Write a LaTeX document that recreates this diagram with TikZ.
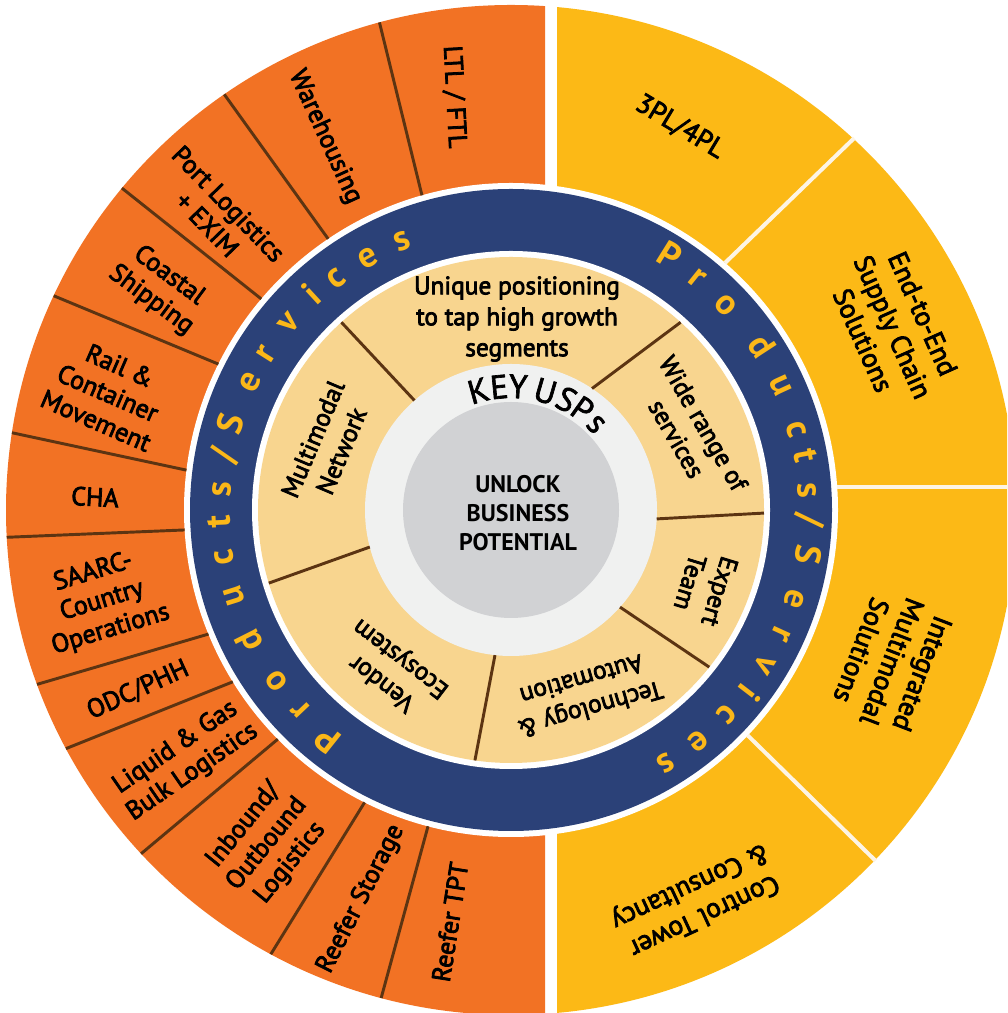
\documentclass[tikz,border=0pt]{standalone}
\usepackage{fontspec}
\setmainfont{PT Sans}
\newfontfamily\labfont{PT Sans}[FakeBold=3]
\newfontfamily\keyfont{PT Sans}[FakeBold=2]
\newfontfamily\ctrfont{PT Sans Bold}
\usetikzlibrary{calc}
\definecolor{orng}{RGB}{242,114,36}
\definecolor{yel}{RGB}{252,185,22}
\definecolor{navy}{RGB}{43,65,120}
\definecolor{ringtxt}{RGB}{251,183,24}
\definecolor{beige}{RGB}{248,213,143}
\definecolor{lgrey}{RGB}{240,241,240}
\definecolor{mgrey}{RGB}{209,210,212}
\definecolor{brn}{RGB}{92,52,18}
\definecolor{cream}{RGB}{253,244,228}
\newcommand\myslash{/}
\begin{document}
\begin{tikzpicture}[x=0.75pt,y=0.75pt,
  lab/.style={font=\labfont\fontsize{19.5}{22.5}\selectfont, align=center, inner sep=0pt},
  ylab/.style={font=\labfont\fontsize{20.5}{24.5}\selectfont, align=center, inner sep=0pt},
  blab/.style={font=\labfont\fontsize{19}{23.2}\selectfont, align=center, inner sep=0pt},
  ctr/.style={font=\ctrfont\fontsize{18}{21.75}\selectfont, align=center, inner sep=0pt},
  rtxt/.style={font=\bfseries\fontsize{27}{27}\selectfont, text=ringtxt, anchor=base, inner sep=0pt},
  ktxt/.style={font=\keyfont\fontsize{25}{25}\selectfont, anchor=base, inner sep=0pt},
  divline/.style={draw=brn, line width=2.2pt},
  ydiv/.style={draw=cream, line width=3pt}]
\useasboundingbox (0,0) rectangle (1007,1013);
\clip (0,0) rectangle (1007,1013);
\fill[white] (0,0) rectangle (1007,1013);
\coordinate (c) at (511,503);
% outer ring
\begin{scope}
  \clip (0,0) rectangle (545,1013);
  \fill[orng] (c) circle (505);
\end{scope}
\begin{scope}
  \clip (557,0) rectangle (1007,1013);
  \fill[yel] (c) circle (505);
\end{scope}
\fill[white] (c) circle (327);
\fill[navy] (c) circle (321);
\fill[white] (c) circle (259);
\fill[beige] (c) circle (253);
\fill[lgrey] (c) circle (146);
\fill[mgrey] (c) circle (108);
% orange dividers
\foreach \a/\b in {105.8/105.1,124.0/124.6,139.8/140.4,153.5/154.9,173.0/171.2,183.5/183.1,202.3/200.2,211.7/208.2,224.5/222.9,243.4/241.6,255.3/255.1}
  \draw[divline] ($(c)+(\a:327)$) -- ($(c)+(\b:505)$);
% yellow dividers
\draw[ydiv] ($(c)+(49.1:327)$) -- ($(c)+(47.3:506)$);
\draw[ydiv] ($(c)+(-43.6:327)$) -- ($(c)+(-43.9:506)$);
\coordinate (h1) at (837,526);
\coordinate (h2) at (1010,526);
\draw[ydiv] (h1) -- (h2);
% beige dividers
\foreach \a/\b in {131.4/132.1,56.3/47.9,-3.5/-0.7,-41.7/-38.4,-96.3/-98.2,194.7/196.8}
  \draw[divline] ($(c)+(\a:146)$) -- ($(c)+(\b:253)$);
% orange labels
\node[lab, rotate=-87] (o1) at (454,916) {LTL / FTL};
\node[lab, rotate=-65.5] (o2) at (325,876) {Warehousing};
\node[lab, rotate=-46] (o3) at (218,799) {Port Logistics\\+ EXIM};
\node[lab, rotate=-36.5] (o4) at (160,725) {Coastal\\Shipping};
\node[lab, rotate=-23.5] (o5) at (108,620) {Rail \&\\Container\\Movement};
\node[lab, rotate=-3] (o6) at (95,516) {CHA};
\node[lab, rotate=17] (o7) at (102,412) {SAARC-\\Country\\Operations};
\node[lab, rotate=24.5] (o8) at (138,323) {ODC/PHH};
\node[lab, rotate=34.5] (o9) at (184,253) {Liquid \& Gas\\Bulk Logistics};
\node[lab, rotate=51] (o10) at (267,169) {Inbound/\\Outbound\\Logistics};
\node[lab, rotate=63] (o11) at (361,114) {Reefer Storage};
\node[lab, rotate=81] (o12) at (450,91) {Reefer TPT};
% yellow labels
\node[ylab, rotate=-31] (y1) at (680,886) {3PL/4PL};
\node[ylab, rotate=-66] (y2) at (893,686) {End-to-End\\Supply Chain\\Solutions};
\node[ylab, rotate=-111] (y3) at (892,351) {Integrated\\Multimodal\\Solutions};
\node[ylab, rotate=-155] (y4) at (697,113) {Control Tower\\\& Consultancy};
% beige labels
\node[blab] (b1) at (517,694) {Unique positioning\\to tap high growth\\segments};
\node[blab, rotate=67] (b2) at (327,568) {Multimodal\\Network};
\node[blab, rotate=-60] (b3) at (690,582) {Wide range of\\services};
\node[blab, rotate=-107] (b4) at (705,426) {Expert\\Team};
\node[blab, rotate=196] (b5) at (586,318) {Technology \&\\Automation};
\node[blab, rotate=142.5] (b6) at (392,343) {Vendor\\Ecosystem};
% centre
\node[ctr] (ctr) at (518,500) {UNLOCK\\BUSINESS\\POTENTIAL};
% KEY USPs
\foreach \ch/\ang in {K/105.3,E/95.5,Y/86.7,U/73.8,S/63.4,P/54.6,s/45.3}
  \node[ktxt, rotate=\ang-90] at ($(c)+(\ang:112)$) {\ch};
% Products/Services (left)
\foreach \ch/\ang in {P/231.4,r/223.4,o/216.1,d/206.7,u/197.3,c/189.3,t/182.3,s/176,\myslash/169.2,S/162.9,e/153.9,r/147.6,v/139.8,i/132.7,c/127,e/119.6,s/112}
  \node[rtxt, rotate=\ang-90] at ($(c)+(\ang:281)$) {\ch};
% Products/Services (right)
\foreach \ch/\ang in {P/58.1,r/51.2,o/43.6,d/33.1,u/24.7,c/15.8,t/10.5,s/3.8,\myslash/-1.9,S/-8.6,e/-17.4,r/-24.6,v/-31.4,i/-37.5,c/-43.4,e/-51,s/-58.5}
  \node[rtxt, rotate=\ang-90] at ($(c)+(\ang:288)$) {\ch};
\end{tikzpicture}
\end{document}
